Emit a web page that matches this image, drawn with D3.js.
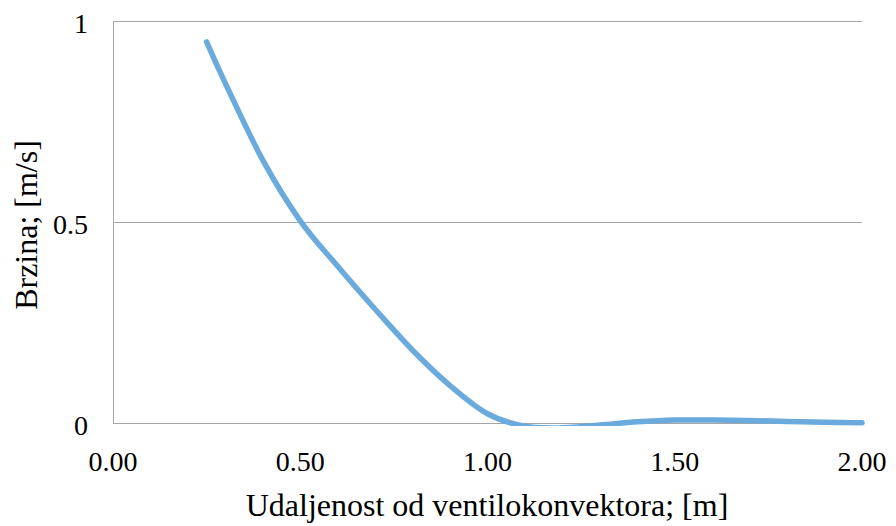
<!DOCTYPE html>
<html>
<head>
<meta charset="utf-8">
<script src="https://cdn.jsdelivr.net/npm/d3@7"></script>
<style>
html,body{margin:0;padding:0;background:#fff;}
svg{display:block;}
</style>
</head>
<body>
<svg id="chart" width="896" height="526" font-family="'Liberation Serif', 'Times New Roman', 'DejaVu Serif', serif"></svg>
<script>
const xValues = [0.25, 0.30, 0.40, 0.50, 0.60, 0.70, 0.80, 0.90, 1.00, 1.10, 1.20, 1.30, 1.40, 1.50, 1.60, 1.70, 1.80, 1.90, 2.00];
const speedValues = [0.948, 0.845, 0.654, 0.503, 0.390, 0.283, 0.181, 0.093, 0.023, -0.008, -0.012, -0.005, 0.003, 0.0075, 0.0072, 0.006, 0.004, 0.002, 0.0008];
const xTicks = [0, 0.5, 1.0, 1.5, 2.0];
const yTicks = [0, 0.5, 1];
const xTitle = "Udaljenost od ventilokonvektora; [m]";
const yTitle = "Brzina; [m/s]";

const W = 896, H = 526;
const m = {left: 113, right: 34, top: 21, bottom: 103};
const svg = d3.select("#chart");
const x = d3.scaleLinear().domain([0, 2]).range([m.left, W - m.right]);
const y = d3.scaleLinear().domain([0, 1]).range([H - m.bottom, m.top]);
const FS = 28, TFS = 32;

// gridlines
svg.append("g").selectAll("line").data(yTicks.filter(d => d > 0)).join("line")
  .attr("x1", x(0)).attr("x2", x(2))
  .attr("y1", d => Math.round(y(d)) + 0.5).attr("y2", d => Math.round(y(d)) + 0.5)
  .attr("stroke", "#a6a6a6").attr("stroke-width", 1);

// axis lines
svg.append("line").attr("x1", x(0) + 0.5).attr("x2", x(0) + 0.5)
  .attr("y1", y(1)).attr("y2", y(0)).attr("stroke", "#a6a6a6");
svg.append("line").attr("x1", x(0)).attr("x2", x(2))
  .attr("y1", Math.round(y(0)) + 0.5).attr("y2", Math.round(y(0)) + 0.5).attr("stroke", "#a6a6a6");

// y tick labels
svg.append("g").selectAll("text").data(yTicks).join("text")
  .attr("x", 88).attr("y", d => y(d) + 12)
  .attr("text-anchor", "end").attr("font-size", FS)
  .text(d => d3.format("")(d));

// x tick labels
svg.append("g").selectAll("text").data(xTicks).join("text")
  .attr("x", d => x(d)).attr("y", 470.5)
  .attr("text-anchor", "middle").attr("font-size", FS)
  .text(d => d3.format(".2f")(d));

// axis titles
svg.append("text").attr("x", 487).attr("y", 516)
  .attr("text-anchor", "middle").attr("font-size", TFS).text(xTitle);
svg.append("text").attr("transform", `translate(37,225) rotate(-90)`)
  .attr("text-anchor", "middle").attr("font-size", TFS).text(yTitle);

// clip
svg.append("clipPath").attr("id", "clip").append("rect")
  .attr("x", 0).attr("y", 0).attr("width", W).attr("height", 426);

const line = d3.line().x((d, i) => x(xValues[i])).y(d => y(d))
  .curve(d3.curveCardinal.tension(0));
svg.append("path").datum(speedValues)
  .attr("clip-path", "url(#clip)")
  .attr("d", line).attr("fill", "none")
  .attr("stroke", "#6aaadc").attr("stroke-width", 5.5)
  .attr("stroke-linecap", "round").attr("stroke-linejoin", "round");
</script>
</body>
</html>
